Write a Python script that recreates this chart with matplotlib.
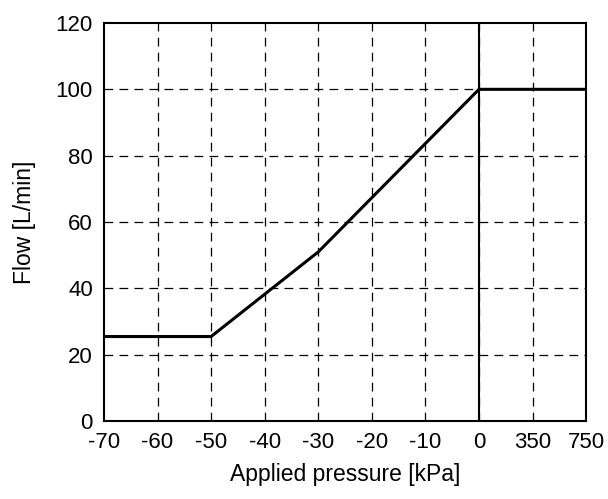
import numpy as np
import matplotlib
matplotlib.use("Agg")
import matplotlib.pyplot as plt

plt.rcParams['font.family'] = ['Liberation Sans', 'DejaVu Sans']

# Axis ticks (the pressure axis is split: vacuum side in kPa steps of 10,
# then two positive pressure points shown at equal spacing)
tick_values = [-70, -60, -50, -40, -30, -20, -10, 0, 350, 750]
tick_labels = ['-70', '-60', '-50', '-40', '-30', '-20', '-10', '0', '350', '750']
y_ticks = [0, 20, 40, 60, 80, 100, 120]

# Flow characteristic
pressure_kpa = [-70, -50, -30, 0, 350, 750]
flow_lpm = [25.5, 25.5, 51, 100, 100, 100]

positions = np.arange(len(tick_values))


def to_axis(p):
    return np.interp(p, tick_values, positions)


fig = plt.figure(figsize=(6.08, 4.99), dpi=100)
ax = fig.add_axes([0.171, 0.156, 0.793, 0.798])

ax.set_xlim(positions[0], positions[-1])
ax.set_ylim(0, 120)

# dashed grid
for x in positions[1:-1]:
    ax.axvline(x, color='black', lw=0.9, ls=(0, (7, 5)), zorder=1)
for y in y_ticks[1:-1]:
    ax.axhline(y, color='black', lw=0.9, ls=(0, (7, 5)), zorder=1)

# solid divider at 0 kPa
ax.axvline(to_axis(0), color='black', lw=1.5, zorder=2)

ax.plot(to_axis(pressure_kpa), flow_lpm, color='black', lw=2.2, zorder=3,
        solid_joinstyle='miter')

ax.set_xticks(positions)
ax.set_xticklabels(tick_labels)
ax.set_yticks(y_ticks)
ax.tick_params(length=0, labelsize=16, colors='black')
ax.tick_params(axis='x', pad=8)
ax.tick_params(axis='y', pad=8)

for s in ax.spines.values():
    s.set_linewidth(1.5)
    s.set_color('black')

ax.set_xlabel('Applied pressure [kPa]', fontsize=16.5, labelpad=7)
ax.set_ylabel('Flow [L/min]', fontsize=16.5, labelpad=14)

fig.savefig('out.png', dpi=100)
